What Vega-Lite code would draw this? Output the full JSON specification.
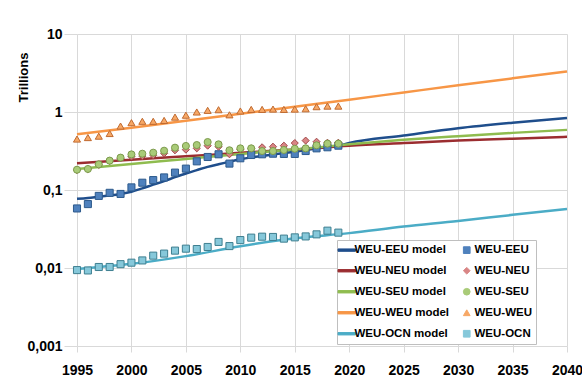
{
  "$schema": "https://vega.github.io/schema/vega-lite/v6.json",
  "autosize": "none",
  "width": 490,
  "height": 312,
  "padding": {"left": 77, "top": 34, "right": 15, "bottom": 37},
  "background": "white",
  "config": {
    "view": {"stroke": null},
    "font": "Liberation Sans",
    "axis": {"gridColor": "#d9d9d9", "gridWidth": 1, "tickColor": "#d9d9d9", "domain": false, "labelFont": "Liberation Sans", "labelFontWeight": "bold", "labelColor": "#000000", "labelFontSize": 14}
  },
  "data": {"values": [
    {"year":1995,"value":0.077,"series":"WEU-EEU model"},{"year":1996,"value":0.079,"series":"WEU-EEU model"},{"year":1997,"value":0.082,"series":"WEU-EEU model"},{"year":1998,"value":0.085,"series":"WEU-EEU model"},{"year":1999,"value":0.089,"series":"WEU-EEU model"},{"year":2000,"value":0.095,"series":"WEU-EEU model"},{"year":2001,"value":0.105,"series":"WEU-EEU model"},{"year":2002,"value":0.117,"series":"WEU-EEU model"},{"year":2003,"value":0.13,"series":"WEU-EEU model"},{"year":2004,"value":0.146,"series":"WEU-EEU model"},{"year":2005,"value":0.163,"series":"WEU-EEU model"},{"year":2006,"value":0.18,"series":"WEU-EEU model"},{"year":2007,"value":0.198,"series":"WEU-EEU model"},{"year":2008,"value":0.214,"series":"WEU-EEU model"},{"year":2009,"value":0.23,"series":"WEU-EEU model"},{"year":2010,"value":0.248,"series":"WEU-EEU model"},{"year":2011,"value":0.262,"series":"WEU-EEU model"},{"year":2012,"value":0.273,"series":"WEU-EEU model"},{"year":2013,"value":0.285,"series":"WEU-EEU model"},{"year":2014,"value":0.297,"series":"WEU-EEU model"},{"year":2015,"value":0.31,"series":"WEU-EEU model"},{"year":2016,"value":0.325,"series":"WEU-EEU model"},{"year":2017,"value":0.34,"series":"WEU-EEU model"},{"year":2018,"value":0.355,"series":"WEU-EEU model"},{"year":2019,"value":0.37,"series":"WEU-EEU model"},{"year":2020,"value":0.4,"series":"WEU-EEU model"},{"year":2025,"value":0.5,"series":"WEU-EEU model"},{"year":2030,"value":0.62,"series":"WEU-EEU model"},{"year":2035,"value":0.73,"series":"WEU-EEU model"},{"year":2040,"value":0.84,"series":"WEU-EEU model"},
    {"year":1995,"value":0.22,"series":"WEU-NEU model"},{"year":2000,"value":0.245,"series":"WEU-NEU model"},{"year":2005,"value":0.27,"series":"WEU-NEU model"},{"year":2010,"value":0.3,"series":"WEU-NEU model"},{"year":2015,"value":0.33,"series":"WEU-NEU model"},{"year":2020,"value":0.37,"series":"WEU-NEU model"},{"year":2025,"value":0.4,"series":"WEU-NEU model"},{"year":2030,"value":0.43,"series":"WEU-NEU model"},{"year":2035,"value":0.455,"series":"WEU-NEU model"},{"year":2040,"value":0.48,"series":"WEU-NEU model"},
    {"year":1995,"value":0.186,"series":"WEU-SEU model"},{"year":2000,"value":0.215,"series":"WEU-SEU model"},{"year":2005,"value":0.25,"series":"WEU-SEU model"},{"year":2010,"value":0.29,"series":"WEU-SEU model"},{"year":2015,"value":0.33,"series":"WEU-SEU model"},{"year":2020,"value":0.385,"series":"WEU-SEU model"},{"year":2025,"value":0.44,"series":"WEU-SEU model"},{"year":2030,"value":0.49,"series":"WEU-SEU model"},{"year":2035,"value":0.54,"series":"WEU-SEU model"},{"year":2040,"value":0.59,"series":"WEU-SEU model"},
    {"year":1995,"value":0.52,"series":"WEU-WEU model"},{"year":2000,"value":0.63,"series":"WEU-WEU model"},{"year":2005,"value":0.77,"series":"WEU-WEU model"},{"year":2010,"value":0.95,"series":"WEU-WEU model"},{"year":2015,"value":1.17,"series":"WEU-WEU model"},{"year":2020,"value":1.44,"series":"WEU-WEU model"},{"year":2025,"value":1.78,"series":"WEU-WEU model"},{"year":2030,"value":2.2,"series":"WEU-WEU model"},{"year":2035,"value":2.7,"series":"WEU-WEU model"},{"year":2040,"value":3.3,"series":"WEU-WEU model"},
    {"year":1995,"value":0.0097,"series":"WEU-OCN model"},{"year":2000,"value":0.0113,"series":"WEU-OCN model"},{"year":2005,"value":0.0142,"series":"WEU-OCN model"},{"year":2010,"value":0.019,"series":"WEU-OCN model"},{"year":2015,"value":0.024,"series":"WEU-OCN model"},{"year":2020,"value":0.028,"series":"WEU-OCN model"},{"year":2025,"value":0.034,"series":"WEU-OCN model"},{"year":2030,"value":0.04,"series":"WEU-OCN model"},{"year":2035,"value":0.048,"series":"WEU-OCN model"},{"year":2040,"value":0.057,"series":"WEU-OCN model"},
    {"year":1995,"value":0.058,"series":"WEU-EEU"},{"year":1996,"value":0.066,"series":"WEU-EEU"},{"year":1997,"value":0.084,"series":"WEU-EEU"},{"year":1998,"value":0.092,"series":"WEU-EEU"},{"year":1999,"value":0.089,"series":"WEU-EEU"},{"year":2000,"value":0.108,"series":"WEU-EEU"},{"year":2001,"value":0.124,"series":"WEU-EEU"},{"year":2002,"value":0.134,"series":"WEU-EEU"},{"year":2003,"value":0.145,"series":"WEU-EEU"},{"year":2004,"value":0.167,"series":"WEU-EEU"},{"year":2005,"value":0.188,"series":"WEU-EEU"},{"year":2006,"value":0.233,"series":"WEU-EEU"},{"year":2007,"value":0.265,"series":"WEU-EEU"},{"year":2008,"value":0.287,"series":"WEU-EEU"},{"year":2009,"value":0.218,"series":"WEU-EEU"},{"year":2010,"value":0.255,"series":"WEU-EEU"},{"year":2011,"value":0.281,"series":"WEU-EEU"},{"year":2012,"value":0.287,"series":"WEU-EEU"},{"year":2013,"value":0.292,"series":"WEU-EEU"},{"year":2014,"value":0.29,"series":"WEU-EEU"},{"year":2015,"value":0.29,"series":"WEU-EEU"},{"year":2016,"value":0.316,"series":"WEU-EEU"},{"year":2017,"value":0.342,"series":"WEU-EEU"},{"year":2018,"value":0.353,"series":"WEU-EEU"},{"year":2019,"value":0.37,"series":"WEU-EEU"},
    {"year":1995,"value":0.18,"series":"WEU-NEU"},{"year":1996,"value":0.185,"series":"WEU-NEU"},{"year":1997,"value":0.21,"series":"WEU-NEU"},{"year":1998,"value":0.235,"series":"WEU-NEU"},{"year":1999,"value":0.255,"series":"WEU-NEU"},{"year":2000,"value":0.268,"series":"WEU-NEU"},{"year":2001,"value":0.272,"series":"WEU-NEU"},{"year":2002,"value":0.279,"series":"WEU-NEU"},{"year":2003,"value":0.295,"series":"WEU-NEU"},{"year":2004,"value":0.323,"series":"WEU-NEU"},{"year":2005,"value":0.329,"series":"WEU-NEU"},{"year":2006,"value":0.342,"series":"WEU-NEU"},{"year":2007,"value":0.37,"series":"WEU-NEU"},{"year":2008,"value":0.359,"series":"WEU-NEU"},{"year":2009,"value":0.287,"series":"WEU-NEU"},{"year":2010,"value":0.33,"series":"WEU-NEU"},{"year":2011,"value":0.34,"series":"WEU-NEU"},{"year":2012,"value":0.353,"series":"WEU-NEU"},{"year":2013,"value":0.359,"series":"WEU-NEU"},{"year":2014,"value":0.37,"series":"WEU-NEU"},{"year":2015,"value":0.4,"series":"WEU-NEU"},{"year":2016,"value":0.43,"series":"WEU-NEU"},{"year":2017,"value":0.416,"series":"WEU-NEU"},{"year":2018,"value":0.404,"series":"WEU-NEU"},{"year":2019,"value":0.404,"series":"WEU-NEU"},
    {"year":1995,"value":0.182,"series":"WEU-SEU"},{"year":1996,"value":0.186,"series":"WEU-SEU"},{"year":1997,"value":0.213,"series":"WEU-SEU"},{"year":1998,"value":0.238,"series":"WEU-SEU"},{"year":1999,"value":0.26,"series":"WEU-SEU"},{"year":2000,"value":0.286,"series":"WEU-SEU"},{"year":2001,"value":0.292,"series":"WEU-SEU"},{"year":2002,"value":0.301,"series":"WEU-SEU"},{"year":2003,"value":0.319,"series":"WEU-SEU"},{"year":2004,"value":0.349,"series":"WEU-SEU"},{"year":2005,"value":0.367,"series":"WEU-SEU"},{"year":2006,"value":0.377,"series":"WEU-SEU"},{"year":2007,"value":0.412,"series":"WEU-SEU"},{"year":2008,"value":0.385,"series":"WEU-SEU"},{"year":2009,"value":0.323,"series":"WEU-SEU"},{"year":2010,"value":0.342,"series":"WEU-SEU"},{"year":2011,"value":0.342,"series":"WEU-SEU"},{"year":2012,"value":0.316,"series":"WEU-SEU"},{"year":2013,"value":0.316,"series":"WEU-SEU"},{"year":2014,"value":0.326,"series":"WEU-SEU"},{"year":2015,"value":0.338,"series":"WEU-SEU"},{"year":2016,"value":0.342,"series":"WEU-SEU"},{"year":2017,"value":0.374,"series":"WEU-SEU"},{"year":2018,"value":0.393,"series":"WEU-SEU"},{"year":2019,"value":0.393,"series":"WEU-SEU"},
    {"year":1995,"value":0.45,"series":"WEU-WEU"},{"year":1996,"value":0.47,"series":"WEU-WEU"},{"year":1997,"value":0.49,"series":"WEU-WEU"},{"year":1998,"value":0.53,"series":"WEU-WEU"},{"year":1999,"value":0.66,"series":"WEU-WEU"},{"year":2000,"value":0.73,"series":"WEU-WEU"},{"year":2001,"value":0.76,"series":"WEU-WEU"},{"year":2002,"value":0.76,"series":"WEU-WEU"},{"year":2003,"value":0.78,"series":"WEU-WEU"},{"year":2004,"value":0.86,"series":"WEU-WEU"},{"year":2005,"value":0.91,"series":"WEU-WEU"},{"year":2006,"value":1.0,"series":"WEU-WEU"},{"year":2007,"value":1.05,"series":"WEU-WEU"},{"year":2008,"value":1.07,"series":"WEU-WEU"},{"year":2009,"value":0.92,"series":"WEU-WEU"},{"year":2010,"value":1.03,"series":"WEU-WEU"},{"year":2011,"value":1.08,"series":"WEU-WEU"},{"year":2012,"value":1.08,"series":"WEU-WEU"},{"year":2013,"value":1.09,"series":"WEU-WEU"},{"year":2014,"value":1.08,"series":"WEU-WEU"},{"year":2015,"value":1.09,"series":"WEU-WEU"},{"year":2016,"value":1.1,"series":"WEU-WEU"},{"year":2017,"value":1.17,"series":"WEU-WEU"},{"year":2018,"value":1.19,"series":"WEU-WEU"},{"year":2019,"value":1.19,"series":"WEU-WEU"},
    {"year":1995,"value":0.0094,"series":"WEU-OCN"},{"year":1996,"value":0.0093,"series":"WEU-OCN"},{"year":1997,"value":0.0103,"series":"WEU-OCN"},{"year":1998,"value":0.0103,"series":"WEU-OCN"},{"year":1999,"value":0.0112,"series":"WEU-OCN"},{"year":2000,"value":0.0117,"series":"WEU-OCN"},{"year":2001,"value":0.0125,"series":"WEU-OCN"},{"year":2002,"value":0.0144,"series":"WEU-OCN"},{"year":2003,"value":0.0153,"series":"WEU-OCN"},{"year":2004,"value":0.0167,"series":"WEU-OCN"},{"year":2005,"value":0.0177,"series":"WEU-OCN"},{"year":2006,"value":0.0175,"series":"WEU-OCN"},{"year":2007,"value":0.0186,"series":"WEU-OCN"},{"year":2008,"value":0.0216,"series":"WEU-OCN"},{"year":2009,"value":0.0191,"series":"WEU-OCN"},{"year":2010,"value":0.0228,"series":"WEU-OCN"},{"year":2011,"value":0.0245,"series":"WEU-OCN"},{"year":2012,"value":0.0252,"series":"WEU-OCN"},{"year":2013,"value":0.025,"series":"WEU-OCN"},{"year":2014,"value":0.0238,"series":"WEU-OCN"},{"year":2015,"value":0.0247,"series":"WEU-OCN"},{"year":2016,"value":0.0254,"series":"WEU-OCN"},{"year":2017,"value":0.027,"series":"WEU-OCN"},{"year":2018,"value":0.0301,"series":"WEU-OCN"},{"year":2019,"value":0.0284,"series":"WEU-OCN"}
  ]},
  "encoding": {
    "x": {"field": "year", "type": "quantitative", "scale": {"domain": [1995, 2040], "nice": false, "zero": false},
      "axis": {"title": null, "values": [1995,2000,2005,2010,2015,2020,2025,2030,2035,2040], "format": "d", "tickSize": 6, "labelPadding": 11, "labelFlush": false}},
    "y": {"field": "value", "type": "quantitative", "scale": {"type": "log", "domain": [0.001, 10], "nice": false},
      "axis": {"title": "Trillions", "values": [0.001, 0.01, 0.1, 1, 10], "labelExpr": "datum.value >= 1 ? format(datum.value, 'd') : replace(toString(datum.value), '.', ',')", "tickSize": 13, "labelPadding": 2, "titleFont": "Liberation Sans", "titleFontSize": 13, "titleFontWeight": "bold", "titleColor": "#000000", "titleAngle": -90, "titleAlign": "center", "titleBaseline": "middle", "titleX": -54, "titleY": 43}}
  },
  "layer": [
    {
      "transform": [{"filter": "indexof(datum.series, 'model') >= 0"}],
      "mark": {"type": "line", "strokeWidth": 2.5, "interpolate": "monotone"},
      "encoding": {
        "color": {"field": "series", "type": "nominal",
          "scale": {"domain": ["WEU-EEU model","WEU-NEU model","WEU-SEU model","WEU-WEU model","WEU-OCN model","WEU-EEU","WEU-NEU","WEU-SEU","WEU-WEU","WEU-OCN"],
                    "range": ["#1f4e8c","#9b2d30","#8fbc4f","#f79646","#4bacc6","#4f81bd","#d98585","#a9cb78","#f7a866","#86c8da"]},
          "legend": {"title": null, "orient": "none", "legendX": 260, "legendY": 206, "columns": 2, "columnPadding": 11, "rowPadding": 8, "padding": 4,
            "strokeColor": "#bfbfbf", "fillColor": "white", "labelFont": "Liberation Sans", "labelFontSize": 11.5, "labelFontWeight": "bold", "labelColor": "#000000", "labelOffset": 2, "symbolOpacity": 1, "symbolSize": 45, "symbolStrokeWidth": 1}
        }
      }
    },
    {
      "transform": [{"filter": "indexof(datum.series, 'model') < 0"}],
      "mark": {"type": "point", "filled": true, "opacity": 1, "strokeWidth": 1, "strokeOpacity": 1},
      "encoding": {
        "color": {"field": "series", "type": "nominal"},
        "shape": {"field": "series", "type": "nominal",
          "scale": {"domain": ["WEU-EEU model","WEU-NEU model","WEU-SEU model","WEU-WEU model","WEU-OCN model","WEU-EEU","WEU-NEU","WEU-SEU","WEU-WEU","WEU-OCN"],
                    "range": ["M-2.6,-0.35H2.6V0.35H-2.6Z","M-2.6,-0.35H2.6V0.35H-2.6Z","M-2.6,-0.35H2.6V0.35H-2.6Z","M-2.6,-0.35H2.6V0.35H-2.6Z","M-2.6,-0.35H2.6V0.35H-2.6Z","square","diamond","circle","triangle-up","square"]}},
        "stroke": {"field": "series", "type": "nominal", "legend": null,
          "scale": {"domain": ["WEU-EEU","WEU-NEU","WEU-SEU","WEU-WEU","WEU-OCN"], "range": ["#2d5a8c","#a24a4a","#7c9a4c","#c06a30","#3e7f90"]}},
        "size": {"value": 50}
      }
    }
  ]
}
